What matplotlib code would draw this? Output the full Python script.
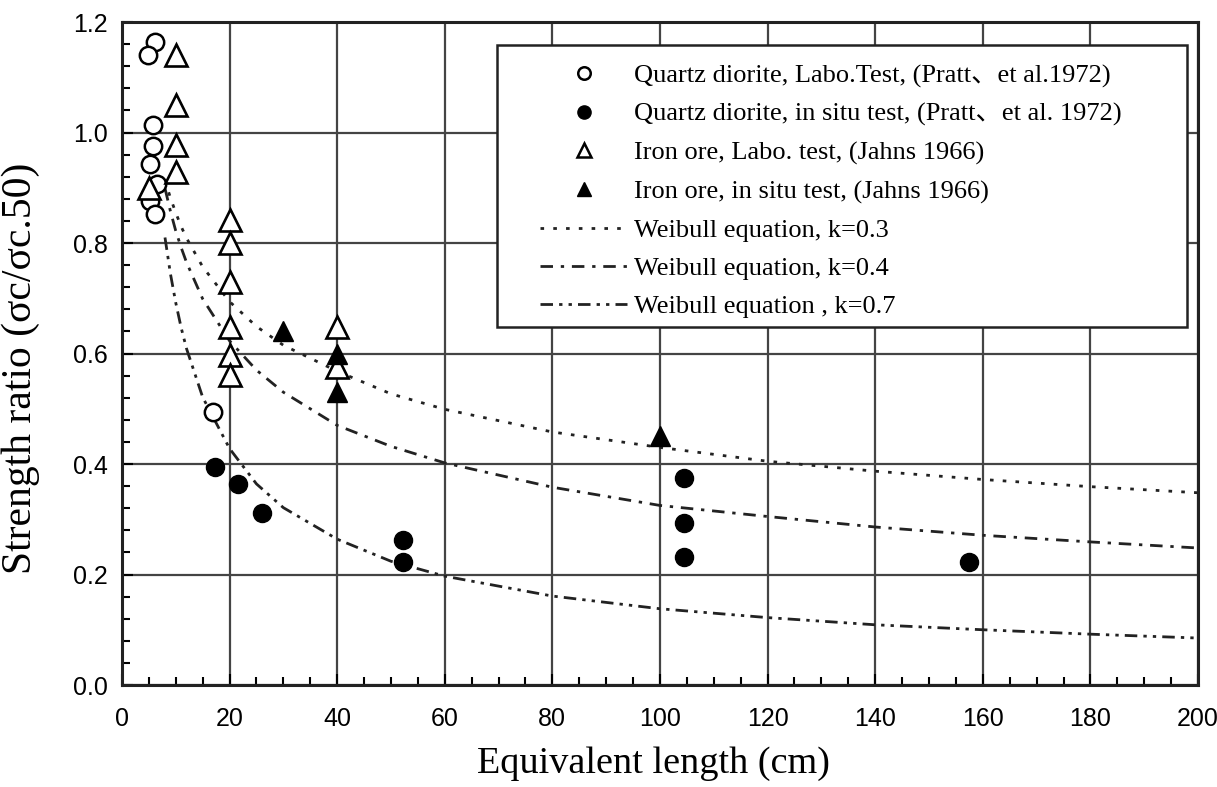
import matplotlib.pyplot as plt
from matplotlib.lines import Line2D
from matplotlib.patches import Rectangle
from matplotlib.ticker import MultipleLocator
from matplotlib.transforms import ScaledTranslation

# scatter data
qd_lab_x = [6.1, 4.9, 5.8, 5.8, 5.3, 6.5, 5.2, 6.1, 16.9]
qd_lab_y = [1.163, 1.14, 1.013, 0.975, 0.943, 0.907, 0.876, 0.853, 0.494]

qd_situ_x = [17.3, 21.6, 26.0, 52.3, 52.3, 104.5, 104.5, 104.5, 157.5]
qd_situ_y = [0.395, 0.363, 0.311, 0.262, 0.223, 0.374, 0.293, 0.232, 0.222]

io_lab_x = [10, 10, 10, 10, 5, 20, 20, 20, 20, 20, 20, 40, 40]
io_lab_y = [1.14, 1.05, 0.977, 0.928, 0.90, 0.842, 0.80, 0.73, 0.648, 0.597, 0.561, 0.648, 0.576]

io_situ_x = [30, 40, 40, 100]
io_situ_y = [0.64, 0.60, 0.53, 0.45]

# Weibull curves, sampled from the figure
curve_x = [8, 9, 10, 11, 12, 15, 20, 25, 30, 40, 50, 60, 80, 100, 120, 140, 160, 180, 200]
k03_y = [0.914, 0.882, 0.855, 0.830, 0.809, 0.757, 0.694, 0.649, 0.615, 0.568, 0.527, 0.499,
         0.458, 0.430, 0.405, 0.387, 0.372, 0.359, 0.348]
k04_y = [0.899, 0.858, 0.822, 0.792, 0.765, 0.699, 0.623, 0.570, 0.530, 0.470, 0.432, 0.402,
         0.358, 0.325, 0.305, 0.286, 0.271, 0.259, 0.248]
k07_y = [0.810, 0.745, 0.692, 0.647, 0.609, 0.521, 0.428, 0.364, 0.321, 0.264, 0.224, 0.197,
         0.161, 0.138, 0.122, 0.109, 0.100, 0.092, 0.085]

labels = [
    "Quartz diorite, Labo.Test, (Pratt\u3001et al.1972)",
    "Quartz diorite, in situ test, (Pratt\u3001et al. 1972)",
    "Iron ore, Labo. test, (Jahns 1966)",
    "Iron ore, in situ test, (Jahns 1966)",
    "Weibull equation, k=0.3",
    "Weibull equation, k=0.4",
    "Weibull equation , k=0.7",
]

serif = ["Liberation Serif", "Noto Sans CJK JP", "DejaVu Serif"]
sans = ["Liberation Sans", "DejaVu Sans"]

fig = plt.figure(figsize=(12.17, 7.87), dpi=100)
ax = fig.add_axes([0.1002, 0.1296, 0.8842, 0.8424])

ls03 = (0, (1.3, 3.3))
ls04 = (0, (4.5, 2.8, 1.2, 2.8))
ls07 = (0, (4.5, 2.2, 1.2, 2.2, 1.2, 2.2))
lc = "#222222"
lw = 2.0

ax.plot(curve_x, k03_y, color=lc, lw=lw, linestyle=ls03)
ax.plot(curve_x, k04_y, color=lc, lw=lw, linestyle=ls04)
ax.plot(curve_x, k07_y, color=lc, lw=lw, linestyle=ls07)

ax.plot(qd_lab_x, qd_lab_y, "o", ms=12.5, mfc="white", mec="black", mew=1.8, zorder=5)
ax.plot(qd_situ_x, qd_situ_y, "o", ms=13, mfc="black", mec="black", zorder=5)
ax.plot(io_lab_x, io_lab_y, "^", ms=15.5, mfc="white", mec="black", mew=1.9, zorder=5)
ax.plot(io_situ_x, io_situ_y, "^", ms=14, mfc="black", mec="black", zorder=5)

ax.set_xlim(0, 200)
ax.set_ylim(0, 1.2)
ax.xaxis.set_major_locator(MultipleLocator(20))
ax.xaxis.set_minor_locator(MultipleLocator(5))
ax.yaxis.set_major_locator(MultipleLocator(0.2))
ax.yaxis.set_minor_locator(MultipleLocator(0.04))
ax.yaxis.set_major_formatter(plt.FuncFormatter(lambda v, p: f"{v:.1f}"))

ax.grid(True, which="major", color="#444444", lw=1.6)
ax.set_axisbelow(True)
for s in ax.spines.values():
    s.set_linewidth(2.2)
    s.set_color("#222222")

ax.tick_params(which="both", direction="in", top=False, right=False, width=1.5)
ax.tick_params(which="major", length=8, pad=10, labelsize=18)
ax.tick_params(axis="x", which="major", pad=16)
ax.tick_params(which="minor", length=6)
for t in ax.get_xticklabels() + ax.get_yticklabels():
    t.set_fontfamily(sans)
# keep the last x label inside the canvas
last = ax.get_xticklabels()[-1]
last.set_transform(last.get_transform() + ScaledTranslation(-5 / 100, 0, fig.dpi_scale_trans))

ax.set_xlabel("Equivalent length (cm)", fontsize=27.5, family=serif)
ax.xaxis.set_label_coords(0.494, -0.093)
ax.set_ylabel("Strength ratio (\u03c3c/\u03c3c.50)", fontsize=30, family=serif)
ax.yaxis.set_label_coords(-0.076, 0.478)

# legend box
ax.add_patch(Rectangle((0.3485, 0.540), 0.6413, 0.425, transform=ax.transAxes,
                       facecolor="white", edgecolor="#222222", lw=1.8, zorder=6))

handles = [
    Line2D([], [], marker="o", ls="none", ms=9, mfc="white", mec="black", mew=1.8),
    Line2D([], [], marker="o", ls="none", ms=9.5, mfc="black", mec="black"),
    Line2D([], [], marker="^", ls="none", ms=10.5, mfc="white", mec="black", mew=1.8),
    Line2D([], [], marker="^", ls="none", ms=10.5, mfc="black", mec="black"),
    Line2D([], [], color=lc, lw=lw, ls=ls03),
    Line2D([], [], color=lc, lw=lw, ls=ls04),
    Line2D([], [], color=lc, lw=lw, ls=ls07),
]
leg = ax.legend(handles, labels, loc="upper left", bbox_to_anchor=(0.3885, 0.937),
                frameon=False, borderpad=0, borderaxespad=0,
                handlelength=3.3, handletextpad=0.25, labelspacing=0.56,
                prop={"family": serif, "size": 19})
leg.set_zorder(7)

plt.savefig("out.png", dpi=100)
